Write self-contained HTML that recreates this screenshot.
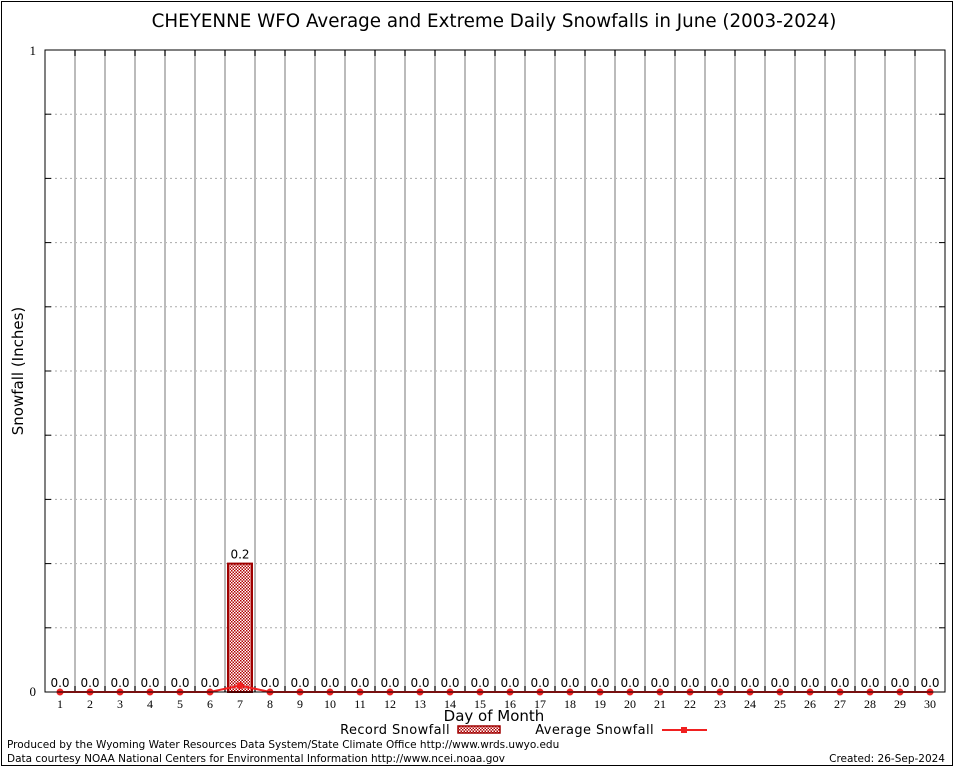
<!DOCTYPE html>
<html><head><meta charset="utf-8"><style>
body{margin:0;background:#fff;}
svg{display:block;font-family:"DejaVu Sans","Liberation Sans",sans-serif;}
</style></head><body>
<svg id="chart" width="954" height="768">
<defs>
<pattern id="hatch" width="3" height="3" patternUnits="userSpaceOnUse">
<rect width="3" height="3" fill="#fff"/>
<rect x="0" y="0" width="1.5" height="1.5" fill="#b00000"/>
<rect x="1.5" y="1.5" width="1.5" height="1.5" fill="#b00000"/>
</pattern>
</defs>
<rect x="1.5" y="1.5" width="951" height="764" fill="none" stroke="#000"/>
<text x="494" y="27" font-size="18.3" text-anchor="middle">CHEYENNE WFO Average and Extreme Daily Snowfalls in June (2003-2024)</text>
<g id="grid"></g>
<g id="marks"></g>
<rect x="45" y="50" width="900" height="642" fill="none" stroke="#000"/>
<text x="36" y="55" font-size="13" font-family="Liberation Serif,serif" text-anchor="end">1</text>
<text x="36" y="696" font-size="13" font-family="Liberation Serif,serif" text-anchor="end">0</text>
<text x="23" y="371" font-size="15" text-anchor="middle" transform="rotate(-90 23 371)">Snowfall (Inches)</text>
<text x="494" y="721" font-size="15" text-anchor="middle">Day of Month</text>
<g>
<text x="450" y="734" font-size="13" text-anchor="end" letter-spacing="0.4">Record Snowfall</text>
<rect x="458" y="726" width="42" height="7" fill="url(#hatch)" stroke="#a00000" stroke-width="1.5"/>
</g>
<g>
<text x="654" y="734" font-size="13" text-anchor="end" letter-spacing="0.4">Average Snowfall</text>
<line x1="662" y1="730" x2="707" y2="730" stroke="#f02020" stroke-width="2"/>
<rect x="681" y="727" width="6" height="6" fill="#f02020"/>
</g>
<text x="7" y="748" font-size="10.5">Produced by the Wyoming Water Resources Data System/State Climate Office http://www.wrds.uwyo.edu</text>
<text x="7" y="762" font-size="10.5">Data courtesy NOAA National Centers for Environmental Information http://www.ncei.noaa.gov</text>
<text x="945" y="762" font-size="10.5" text-anchor="end">Created: 26-Sep-2024</text>
</svg>
<script>
const days = [1,2,3,4,5,6,7,8,9,10,11,12,13,14,15,16,17,18,19,20,21,22,23,24,25,26,27,28,29,30];
const recordValues = [0,0,0,0,0,0,0.2,0,0,0,0,0,0,0,0,0,0,0,0,0,0,0,0,0,0,0,0,0,0,0];
const averageValues = [0,0,0,0,0,0,0.01,0,0,0,0,0,0,0,0,0,0,0,0,0,0,0,0,0,0,0,0,0,0,0];
const yTicks = [0,0.1,0.2,0.3,0.4,0.5,0.6,0.7,0.8,0.9,1];
const NS="http://www.w3.org/2000/svg";
const L=45,R=945,T=50,B=692,yMax=1;
const xs=d=>L+(R-L)/days.length*(d-0.5);
const ys=v=>B-(B-T)*v/yMax;
function mk(tag,attrs,parent){const e=document.createElementNS(NS,tag);for(const k in attrs)e.setAttribute(k,attrs[k]);parent.appendChild(e);return e;}
const grid=document.getElementById('grid'),marks=document.getElementById('marks');
yTicks.forEach(t=>{if(t===0||t===1)return;
 const l=mk('line',{x1:L,x2:R,y1:ys(t),y2:ys(t),stroke:'#aaa','stroke-dasharray':'2,3'},grid);
 
 
 mk('line',{x1:L,x2:L+6,y1:ys(t),y2:ys(t),stroke:'#000'},grid);
 mk('line',{x1:R-6,x2:R,y1:ys(t),y2:ys(t),stroke:'#000'},grid);
});
const w=(R-L)/days.length;
for(let i=1;i<days.length;i++){const x=L+w*i;
 const l=mk('line',{x1:x,x2:x,y1:T,y2:B,stroke:'#bbb','stroke-width':2},grid);
 
 
 mk('line',{x1:x,x2:x,y1:T,y2:T+6,stroke:'#000'},grid);
 mk('line',{x1:x,x2:x,y1:B-6,y2:B,stroke:'#000'},grid);
}
days.forEach((d,i)=>{
 const v=recordValues[i],x=xs(d);
 if(v>0){const r=mk('rect',{x:x-12,y:ys(v),width:24,height:B-ys(v),fill:'url(#hatch)',stroke:'#a00000','stroke-width':2},marks);
  
  }
 const t=mk('text',{x:x,y:ys(v)-5,'font-size':12,'text-anchor':'middle'},marks);t.textContent=v.toFixed(1);
 
 
 const xl=mk('text',{x:x,y:708,'font-size':12,'text-anchor':'middle','font-family':'Liberation Serif,serif'},marks);xl.textContent=d;
 
 
});
const pts=days.map((d,i)=>xs(d)+','+ys(averageValues[i])).join(' ');
const pl=mk('polyline',{points:pts,fill:'none',stroke:'#f02020','stroke-width':2},marks);


days.forEach((d,i)=>{const c=mk('circle',{cx:xs(d),cy:ys(averageValues[i]),r:3.5,fill:'#f02020'},marks);
 
 });
</script>
</body></html>
